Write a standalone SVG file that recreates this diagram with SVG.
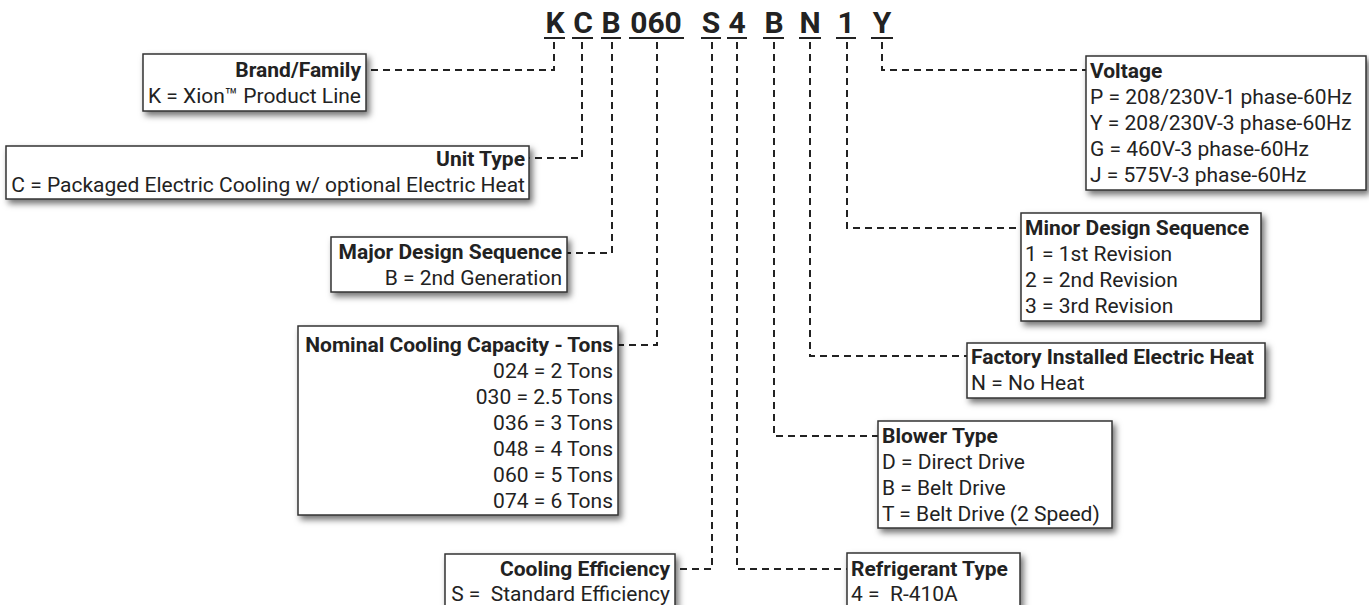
<svg xmlns="http://www.w3.org/2000/svg" width="1369" height="605" viewBox="0 0 1369 605">
<defs>
<filter id="sh" x="-10%" y="-10%" width="130%" height="140%">
<feDropShadow dx="3" dy="4" stdDeviation="3" flood-color="#000" flood-opacity="0.55"/>
</filter>
<style>
.box{fill:#fff;stroke:#333;stroke-width:1.5;filter:url(#sh)}
.t{font-family:Roboto,"Liberation Sans",sans-serif;font-size:21px;fill:#222}
.b{font-weight:700}
.r{text-anchor:end}
.code{font-family:Roboto,"Liberation Sans",sans-serif;font-size:30px;font-weight:700;fill:#222;text-anchor:middle}
.ul{stroke:#222;stroke-width:2}
.c{fill:none;stroke:#222;stroke-width:2;stroke-dasharray:7,5}
</style>
</defs>
<rect width="1369" height="605" fill="#fff"/>
<g id="code">
<text class="code" x="555" y="33">K</text>
<text class="code" x="583" y="33">C</text>
<text class="code" x="611" y="33">B</text>
<text class="code" x="656" y="33">060</text>
<text class="code" x="711" y="33">S</text>
<text class="code" x="737" y="33">4</text>
<text class="code" x="774" y="33">B</text>
<text class="code" x="810" y="33">N</text>
<text class="code" x="846" y="33">1</text>
<text class="code" x="882" y="33">Y</text>
<line class="ul" x1="544" y1="38" x2="565" y2="38"/>
<line class="ul" x1="572" y1="38" x2="593" y2="38"/>
<line class="ul" x1="601" y1="38" x2="621" y2="38"/>
<line class="ul" x1="629" y1="38" x2="684" y2="38"/>
<line class="ul" x1="701" y1="38" x2="721" y2="38"/>
<line class="ul" x1="727" y1="38" x2="747" y2="38"/>
<line class="ul" x1="763" y1="38" x2="784" y2="38"/>
<line class="ul" x1="799" y1="38" x2="821" y2="38"/>
<line class="ul" x1="836" y1="38" x2="856" y2="38"/>
<line class="ul" x1="871" y1="38" x2="893" y2="38"/>
</g>
<g id="connectors">
<path class="c" d="M554,42 V70 H366"/>
<path class="c" d="M582,42 V158 H529"/>
<path class="c" d="M612,42 V253 H567"/>
<path class="c" d="M657,42 V345 H618"/>
<path class="c" d="M712,42 V569 H675"/>
<path class="c" d="M737,42 V569 H847"/>
<path class="c" d="M774,42 V436 H878"/>
<path class="c" d="M810,42 V356 H967"/>
<path class="c" d="M847,42 V228 H1021"/>
<path class="c" d="M882,42 V70 H1086"/>
</g>
<g id="brand">
<rect class="box" x="143" y="54" width="223" height="57"/>
<text class="t b r" x="361" y="77">Brand/Family</text>
<text class="t r" x="361" y="103">K = Xion™ Product Line</text>
</g>
<g id="unit">
<rect class="box" x="6" y="146" width="523" height="53"/>
<text class="t b r" x="525" y="166">Unit Type</text>
<text class="t r" x="525" y="192">C = Packaged Electric Cooling w/ optional Electric Heat</text>
</g>
<g id="major">
<rect class="box" x="331" y="237" width="236" height="55"/>
<text class="t b r" x="562" y="259">Major Design Sequence</text>
<text class="t r" x="562" y="285">B = 2nd Generation</text>
</g>
<g id="nominal">
<rect class="box" x="298" y="326" width="320" height="189"/>
<text class="t b r" x="613" y="352">Nominal Cooling Capacity - Tons</text>
<text class="t r" x="613" y="378">024 = 2 Tons</text>
<text class="t r" x="613" y="404">030 = 2.5 Tons</text>
<text class="t r" x="613" y="430">036 = 3 Tons</text>
<text class="t r" x="613" y="456">048 = 4 Tons</text>
<text class="t r" x="613" y="482">060 = 5 Tons</text>
<text class="t r" x="613" y="508">074 = 6 Tons</text>
</g>
<g id="cooling">
<rect class="box" x="445" y="554" width="230" height="60"/>
<text class="t b r" x="670" y="576">Cooling Efficiency</text>
<text class="t r" x="670" y="601" xml:space="preserve">S =  Standard Efficiency</text>
</g>
<g id="refrigerant">
<rect class="box" x="847" y="553" width="173" height="60"/>
<text class="t b" x="851" y="576">Refrigerant Type</text>
<text class="t" x="851" y="601" xml:space="preserve">4 =  R-410A</text>
</g>
<g id="blower">
<rect class="box" x="878" y="421" width="234" height="107"/>
<text class="t b" x="882" y="443">Blower Type</text>
<text class="t" x="882" y="469">D = Direct Drive</text>
<text class="t" x="882" y="495">B = Belt Drive</text>
<text class="t" x="882" y="521">T = Belt Drive (2 Speed)</text>
</g>
<g id="factory">
<rect class="box" x="967" y="343" width="298" height="55"/>
<text class="t b" x="971" y="364">Factory Installed Electric Heat</text>
<text class="t" x="971" y="390">N = No Heat</text>
</g>
<g id="minor">
<rect class="box" x="1021" y="213" width="240" height="108"/>
<text class="t b" x="1025" y="235">Minor Design Sequence</text>
<text class="t" x="1025" y="261">1 = 1st Revision</text>
<text class="t" x="1025" y="287">2 = 2nd Revision</text>
<text class="t" x="1025" y="313">3 = 3rd Revision</text>
</g>
<g id="voltage">
<rect class="box" x="1086" y="56" width="280" height="134"/>
<text class="t b" x="1090" y="78">Voltage</text>
<text class="t" x="1090" y="104">P = 208/230V-1 phase-60Hz</text>
<text class="t" x="1090" y="130">Y = 208/230V-3 phase-60Hz</text>
<text class="t" x="1090" y="156">G = 460V-3 phase-60Hz</text>
<text class="t" x="1090" y="182">J = 575V-3 phase-60Hz</text>
</g>
</svg>
